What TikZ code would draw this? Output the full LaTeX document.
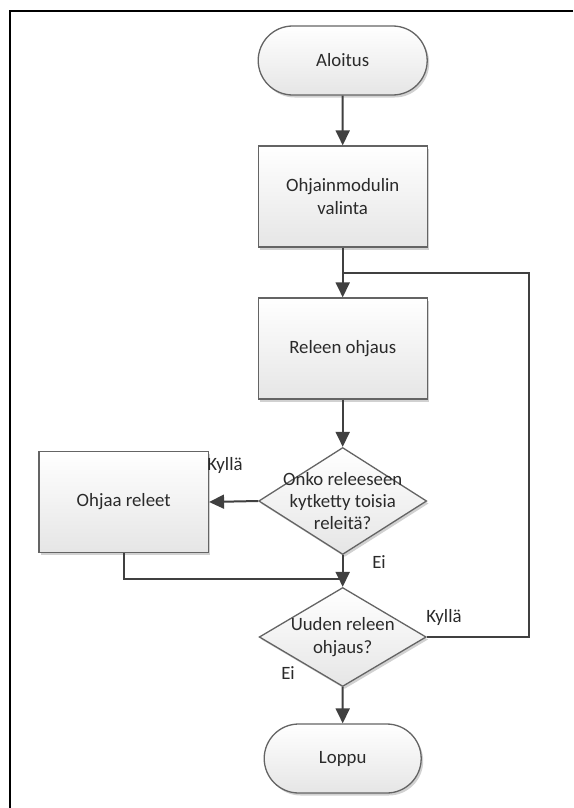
\documentclass[tikz,border=0pt]{standalone}
\usepackage{fontspec}
\setmainfont{Carlito}
\usetikzlibrary{arrows.meta,shapes.misc,shapes.geometric,shadows}
\definecolor{edgecol}{HTML}{404040}
\definecolor{bordercol}{HTML}{646464}
\definecolor{txtcol}{HTML}{2A2A2A}
\tikzset{
  shapebase/.style={draw=bordercol, line width=1.3pt, top color=white, bottom color=black!10,
    drop shadow={shadow xshift=2pt, shadow yshift=-2.5pt, opacity=0.18, fill=black},
    inner sep=0pt, text=txtcol, align=center, font=\fontsize{18.8}{23}\selectfont},
  termbox/.style={shapebase, rounded rectangle},
  procbox/.style={shapebase, rectangle},
  decbox/.style={shapebase, diamond, shape aspect=1.6},
  flow/.style={draw=edgecol, line width=2pt, -{Triangle[length=15pt,width=14pt]}},
  plainflow/.style={draw=edgecol, line width=2pt},
  lbl/.style={text=txtcol, font=\fontsize{18.8}{22}\selectfont, inner sep=0pt}
}
\begin{document}
\begin{tikzpicture}[x=1pt,y=-1pt]
\useasboundingbox (0,0) rectangle (573,808);
\fill[white] (0,0) rectangle (573,808);
% frame
\draw[line width=2.3pt, black] (573,11) -- (10,11) -- (10,808);

\node[termbox, minimum width=169pt, minimum height=69pt] (start) at (342.7,60.5) {Aloitus};
\node[procbox, minimum width=169pt, minimum height=101pt] (sel) at (342.7,196.5) {Ohjainmodulin\\valinta};
\node[procbox, minimum width=169pt, minimum height=101pt] (rel) at (342.7,348.5) {Releen ohjaus};
\node[decbox, minimum width=168pt, minimum height=107pt,
  label={[lbl, align=center, font=\fontsize{18.8}{22}\selectfont]center:Onko releeseen\\kytketty toisia\\releitä?}] (q1) at (342.7,501) {};
\node[procbox, minimum width=169.5pt, minimum height=101pt] (act) at (123.7,502) {Ohjaa releet};
\node[decbox, minimum width=167pt, minimum height=99pt,
  label={[lbl, align=center, font=\fontsize{18.8}{23}\selectfont]center:Uuden releen\\ohjaus?}] (q2) at (342.7,637) {};
\node[termbox, minimum width=157pt, minimum height=69pt] (end) at (342.7,758.5) {Loppu};

\coordinate (jn) at (342.7,272.7);
\coordinate (loopc) at (528.5,637);
\coordinate (merge) at (342.7,579);

\draw[flow] (start) -- (sel);
\draw[flow] (sel) -- (rel);
\draw[flow] (rel) -- (q1);
\draw[flow] (q1.west) -- (act.east);
\draw[flow] (q1.south) -- (q2.north);
\draw[plainflow] (act.south) |- (merge);
\draw[plainflow] (q2.east) -- (loopc) |- (jn);
\draw[flow] (q2.south) -- (end);

\node[lbl] (yes1) at (225,465) {Kyllä};
\node[lbl] (no1) at (379,562) {Ei};
\node[lbl] (yes2) at (444,617) {Kyllä};
\node[lbl] (no2) at (288,673) {Ei};
\end{tikzpicture}
\end{document}
